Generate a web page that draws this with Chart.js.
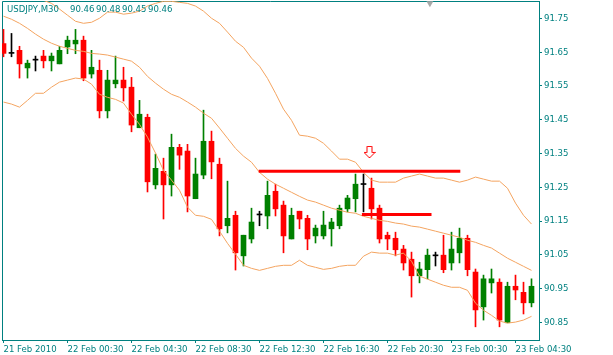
<!DOCTYPE html>
<html>
<head>
<meta charset="utf-8">
<script src="https://cdn.jsdelivr.net/npm/chart.js@4/dist/chart.umd.min.js"></script>
<style>
  body { margin: 0; background: #fff; }
  #wrap { width: 613px; height: 355px; position: relative; }
</style>
</head>
<body>
<div id="wrap"><canvas id="myChart"></canvas></div>
<script>
// USDJPY M30 candles, bar index 0..66 (21 Feb 2010 -> 23 Feb 2010)
const opens = [91.675, 91.646, 91.655, 91.603, 91.626, 91.638, 91.624, 91.615, 91.665, 91.674,
    91.685, 91.585, 91.596, 91.476, 91.556, 91.567, 91.546, 91.426, 91.457, 91.257,
    91.297, 91.257, 91.368, 91.357, 91.216, 91.286, 91.386, 91.318, 91.136, 91.167,
    91.047, 91.097, 91.168, 91.165, 91.238, 91.197, 91.097, 91.179, 91.158, 91.106,
    91.106, 91.127, 91.136, 91.186, 91.216, 91.258, 91.247, 91.188, 91.108, 91.099,
    91.067, 91.037, 90.988, 91.006, 91.047, 91.049, 91.026, 91.056, 91.099, 90.999,
    90.896, 90.967, 90.969, 90.849, 90.957, 90.939, 90.908];
const highs = [91.717, 91.705, 91.667, 91.626, 91.638, 91.655, 91.647, 91.667, 91.697, 91.717,
    91.697, 91.655, 91.626, 91.596, 91.638, 91.605, 91.575, 91.507, 91.466, 91.348,
    91.336, 91.407, 91.377, 91.377, 91.336, 91.478, 91.416, 91.336, 91.268, 91.179,
    91.108, 91.188, 91.179, 91.268, 91.259, 91.209, 91.188, 91.179, 91.167, 91.138,
    91.179, 91.158, 91.197, 91.226, 91.289, 91.289, 91.277, 91.197, 91.117, 91.117,
    91.078, 91.058, 91.028, 91.067, 91.058, 91.108, 91.117, 91.129, 91.108, 91.008,
    90.990, 91.008, 90.979, 90.969, 90.990, 90.969, 90.979];
const lows = [91.636, 91.636, 91.573, 91.573, 91.594, 91.603, 91.594, 91.615, 91.645, 91.645,
    91.565, 91.573, 91.455, 91.455, 91.544, 91.505, 91.414, 91.426, 91.236, 91.245,
    91.156, 91.224, 91.303, 91.177, 91.216, 91.275, 91.275, 91.106, 91.115, 91.005,
    91.017, 91.085, 91.136, 91.127, 91.165, 91.056, 91.097, 91.127, 91.065, 91.085,
    91.097, 91.076, 91.127, 91.177, 91.177, 91.177, 91.156, 91.085, 91.065, 91.047,
    91.005, 90.925, 90.967, 90.979, 91.017, 90.997, 91.005, 91.026, 90.988, 90.837,
    90.857, 90.937, 90.837, 90.849, 90.917, 90.875, 90.896];
const closes = [91.646, 91.646, 91.615, 91.617, 91.626, 91.624, 91.638, 91.655, 91.685, 91.685,
    91.573, 91.605, 91.476, 91.567, 91.567, 91.544, 91.434, 91.466, 91.266, 91.306,
    91.257, 91.368, 91.345, 91.224, 91.289, 91.386, 91.325, 91.127, 91.158, 91.056,
    91.108, 91.147, 91.168, 91.226, 91.186, 91.106, 91.167, 91.156, 91.097, 91.129,
    91.138, 91.147, 91.188, 91.218, 91.259, 91.258, 91.186, 91.097, 91.097, 91.065,
    91.026, 90.988, 91.008, 91.049, 91.047, 91.006, 91.067, 91.099, 91.006, 90.887,
    90.979, 90.979, 90.857, 90.957, 90.946, 90.908, 90.957];

// Bollinger bands
const bandUpper = [91.827, 91.821, 91.815, 91.812, 91.809, 91.803, 91.794, 91.777, 91.759, 91.741,
    91.735, 91.738, 91.750, 91.768, 91.768, 91.762, 91.765, 91.771, 91.786, 91.794,
    91.800, 91.800, 91.797, 91.794, 91.786, 91.771, 91.750, 91.735, 91.709, 91.682,
    91.664, 91.632, 91.608, 91.572, 91.528, 91.481, 91.448, 91.404, 91.401, 91.395,
    91.380, 91.357, 91.333, 91.333, 91.324, 91.294, 91.271, 91.265, 91.265, 91.265,
    91.277, 91.283, 91.289, 91.283, 91.277, 91.277, 91.271, 91.265, 91.271, 91.280,
    91.274, 91.268, 91.268, 91.247, 91.203, 91.167, 91.141];
const bandMiddle = [91.756, 91.747, 91.735, 91.720, 91.703, 91.688, 91.676, 91.667, 91.661, 91.655,
    91.652, 91.646, 91.644, 91.641, 91.635, 91.629, 91.623, 91.605, 91.578, 91.558,
    91.540, 91.525, 91.516, 91.502, 91.487, 91.469, 91.454, 91.425, 91.395, 91.365,
    91.342, 91.324, 91.294, 91.274, 91.259, 91.247, 91.235, 91.223, 91.212, 91.206,
    91.197, 91.188, 91.182, 91.176, 91.173, 91.164, 91.158, 91.152, 91.149, 91.144,
    91.141, 91.135, 91.132, 91.126, 91.120, 91.114, 91.108, 91.102, 91.093, 91.087,
    91.078, 91.070, 91.055, 91.040, 91.028, 91.016, 91.004];
const bandLower = [91.502, 91.496, 91.487, 91.507, 91.528, 91.528, 91.546, 91.561, 91.567, 91.573,
    91.570, 91.555, 91.525, 91.516, 91.510, 91.499, 91.466, 91.436, 91.398, 91.351,
    91.300, 91.271, 91.241, 91.191, 91.167, 91.164, 91.155, 91.120, 91.084, 91.052,
    91.019, 91.010, 91.004, 91.010, 91.016, 91.019, 91.019, 91.034, 91.019, 91.013,
    91.007, 91.010, 91.016, 91.019, 91.019, 91.046, 91.058, 91.055, 91.055, 91.049,
    91.055, 91.031, 90.987, 90.978, 90.969, 90.960, 90.954, 90.954, 90.945, 90.907,
    90.886, 90.871, 90.854, 90.848, 90.851, 90.857, 90.868];

// axis labels
const tickBars = [0, 8, 16, 24, 32, 40, 48, 56, 64];
const timeLabels = ['21 Feb 2010', '22 Feb 00:30', '22 Feb 04:30', '22 Feb 08:30', '22 Feb 12:30',
    '22 Feb 16:30', '22 Feb 20:30', '23 Feb 00:30', '23 Feb 04:30'];
const priceTicks = [90.85, 90.95, 91.05, 91.15, 91.25, 91.35, 91.45, 91.55, 91.65, 91.75];

// drawn objects: two horizontal levels, the arrow and the shift marker
const levelTop = [{x: 31.9, y: 91.297}, {x: 57.1, y: 91.297}];
const levelLow = [{x: 44.8, y: 91.169}, {x: 53.5, y: 91.169}];
const arrowMark = [{x: 45.75, y: 91.353}];
const shiftMark = [{x: 53.3, y: 91.794}];

// top-left symbol line: text pieces and where each one starts
const titleParts = ['USDJPY,M30', '90.46', '90.48', '90.45', '90.46'];
const titleStarts = [7, 70, 96, 122, 148];

const teal = '#008080';
const bull = '#008000';
const bear = '#ff0000';
const band = '#f4a460';
const fontFamily = "'DejaVu Sans Condensed', 'DejaVu Sans', sans-serif";
const fontSize = 9.5;

Chart.defaults.font.family = fontFamily;
Chart.defaults.font.size = fontSize;

// colour of each candle from its open / close
const candleColors = opens.map((o, i) => closes[i] > o ? bull : (closes[i] < o ? bear : '#000000'));

// hollow down arrow used as a point style
const arrowImg = document.createElement('canvas');
arrowImg.width = 12;
arrowImg.height = 13;
(function(){
    const a = arrowImg.getContext('2d');
    a.beginPath();
    a.moveTo(3.5, 0.5); a.lineTo(8.5, 0.5); a.lineTo(8.5, 6.5); a.lineTo(11.5, 6.5);
    a.lineTo(6, 12); a.lineTo(0.5, 6.5); a.lineTo(3.5, 6.5); a.closePath();
    a.fillStyle = '#ffffff';
    a.fill();
    a.strokeStyle = bear;
    a.lineWidth = 1;
    a.stroke();
})();

// no label padding, the chart area is fixed by the layout padding and the axis sizes
function noPadding(s) {
    s.paddingTop = 0; s.paddingBottom = 0; s.paddingLeft = 0; s.paddingRight = 0;
}

// frame on the left / top and the symbol line in the corner
const framePlugin = {
    id: 'frame',
    beforeDatasetsDraw(chart) {
        const {ctx, chartArea: a} = chart;
        ctx.save();
        ctx.strokeStyle = teal;
        ctx.lineWidth = 1;
        ctx.beginPath();
        ctx.moveTo(a.left + 0.5, a.bottom);
        ctx.lineTo(a.left + 0.5, a.top + 0.5);
        ctx.lineTo(a.right, a.top + 0.5);
        ctx.stroke();
        ctx.restore();
    },
    afterDraw(chart) {
        const ctx = chart.ctx;
        ctx.save();
        ctx.font = fontSize + 'px ' + fontFamily;
        ctx.fillStyle = teal;
        ctx.textBaseline = 'middle';
        titleParts.forEach((t, i) => ctx.fillText(t, titleStarts[i], 10));
        ctx.restore();
    }
};

const ctx = document.getElementById('myChart');
const myChart = new Chart(ctx, {
    type: 'bar',
    data: {
        datasets: [
            {   // levels drawn on top
                type: 'line', data: levelTop, borderColor: bear, borderWidth: 3,
                pointRadius: 0, order: 0
            },
            {
                type: 'line', data: levelLow, borderColor: bear, borderWidth: 3,
                pointRadius: 0, order: 0
            },
            {
                type: 'scatter', data: arrowMark, pointStyle: arrowImg, order: 0
            },
            {
                type: 'scatter', data: shiftMark, pointStyle: 'triangle', rotation: 180,
                pointRadius: 4, backgroundColor: '#a8a8a8', borderWidth: 0, clip: false, order: 0
            },
            {   // bollinger bands
                type: 'line', data: bandUpper.map((v, i) => ({x: i, y: v})),
                borderColor: band, borderWidth: 1, pointRadius: 0, order: 1
            },
            {
                type: 'line', data: bandMiddle.map((v, i) => ({x: i, y: v})),
                borderColor: band, borderWidth: 1, pointRadius: 0, order: 1
            },
            {
                type: 'line', data: bandLower.map((v, i) => ({x: i, y: v})),
                borderColor: band, borderWidth: 1, pointRadius: 0, order: 1
            },
            {   // candle bodies
                data: opens.map((o, i) => ({x: i, y: [o, closes[i]]})),
                backgroundColor: candleColors, barThickness: 5, minBarLength: 1,
                grouped: false, borderWidth: 0, order: 2
            },
            {   // candle wicks
                data: lows.map((l, i) => ({x: i, y: [l, highs[i]]})),
                backgroundColor: candleColors, barThickness: 1,
                grouped: false, borderWidth: 0, order: 3
            }
        ]
    },
    options: {
        responsive: true,
        maintainAspectRatio: false,
        animation: false,
        events: [],
        layout: { autoPadding: false, padding: { left: 2, top: 1, right: 0, bottom: 0 } },
        scales: {
            x: {
                type: 'linear',
                position: 'bottom',
                offset: false,
                min: -0.1875,
                max: 66.9375,
                afterBuildTicks: s => { s.ticks = tickBars.map(v => ({value: v})); },
                afterFit: s => { s.height = 15; noPadding(s); },
                ticks: {
                    align: 'start',
                    autoSkip: false,
                    maxRotation: 0,
                    padding: 1,
                    color: teal,
                    callback: (v, i) => timeLabels[i]
                },
                grid: { offset: false, drawOnChartArea: false, tickLength: 3, tickColor: teal },
                border: { color: teal }
            },
            y: {
                position: 'right',
                min: 90.798,
                max: 91.801,
                afterBuildTicks: s => { s.ticks = priceTicks.map(v => ({value: v})); },
                afterFit: s => { s.width = 74; noPadding(s); },
                ticks: {
                    color: teal,
                    padding: 2,
                    callback: v => v.toFixed(2)
                },
                grid: { drawOnChartArea: false, tickLength: 3, tickColor: teal },
                border: { color: teal }
            }
        },
        plugins: {
            legend: { display: false },
            tooltip: { enabled: false }
        }
    },
    plugins: [framePlugin]
});
</script>
</body>
</html>
